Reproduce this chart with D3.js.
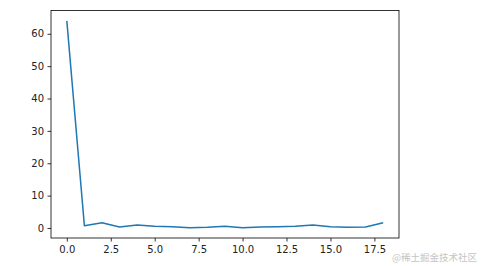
<!DOCTYPE html>
<html>
<head>
<meta charset="utf-8">
<script src="https://cdn.jsdelivr.net/npm/d3@7"></script>
<style>
  body { margin: 0; background: #fff; }
  text { font-family: "DejaVu Sans", sans-serif; }
</style>
</head>
<body>
<div id="chart"></div>
<script>
// values
const xs = [0, 1, 2, 3, 4, 5, 6, 7, 8, 9, 10, 11, 12, 13, 14, 15, 16, 17, 18];
const ys = [64, 0.7, 1.6, 0.3, 0.9, 0.5, 0.4, 0.1, 0.2, 0.5, 0.1, 0.3, 0.4, 0.5, 0.9, 0.4, 0.2, 0.3, 1.6];
const xTicks = [0, 2.5, 5, 7.5, 10, 12.5, 15, 17.5];
const yTicks = [0, 10, 20, 30, 40, 50, 60];

const W = 481, H = 266;
const margin = { left: 51, right: 82, top: 10.5, bottom: 28 };
const width = W - margin.left - margin.right;
const height = H - margin.top - margin.bottom;

const svg = d3.select("#chart").append("svg")
  .attr("width", W).attr("height", H);

const g = svg.append("g")
  .attr("transform", `translate(${margin.left}, ${margin.top})`);

// matplotlib-like 5% margins
const xPad = (d3.max(xs) - d3.min(xs)) * 0.05;
const yPad = (d3.max(ys) - d3.min(ys)) * 0.05;
const xScale = d3.scaleLinear().domain([d3.min(xs) - xPad, d3.max(xs) + xPad]).range([0, width]);
const yScale = d3.scaleLinear().domain([d3.min(ys) - yPad, d3.max(ys) + yPad]).range([height, 0]);

const xAxis = d3.axisBottom(xScale).tickValues(xTicks).tickFormat(d3.format(".1f")).tickSize(3.5).tickPadding(4);
const yAxis = d3.axisLeft(yScale).tickValues(yTicks).tickFormat(d3.format("d")).tickSize(3.5).tickPadding(3.5);

g.append("g").attr("class", "x axis")
  .attr("transform", `translate(0, ${height})`)
  .call(xAxis);
g.append("g").attr("class", "y axis")
  .call(yAxis);

g.selectAll(".axis .domain").remove();
g.selectAll(".axis line").attr("stroke", "#000").attr("stroke-width", 0.8);
g.selectAll(".axis text").attr("font-size", 10).attr("fill", "#222");

// frame
g.append("rect")
  .attr("width", width).attr("height", height)
  .attr("fill", "none").attr("stroke", "#000").attr("stroke-width", 0.8);

const lineGenerator = d3.line()
  .x((d, i) => xScale(xs[i]))
  .y(d => yScale(d));

g.append("path")
  .datum(ys)
  .attr("fill", "none")
  .attr("stroke", "#1f77b4")
  .attr("stroke-width", 1.5)
  .attr("stroke-linejoin", "round")
  .attr("d", lineGenerator);

// watermark
svg.append("text")
  .attr("x", 477).attr("y", 261)
  .attr("text-anchor", "end")
  .attr("font-size", 9.5)
  .attr("fill", "#c4c4c4")
  .style("font-family", "'Noto Sans CJK SC', sans-serif")
  .text("@稀土掘金技术社区");
</script>
</body>
</html>
